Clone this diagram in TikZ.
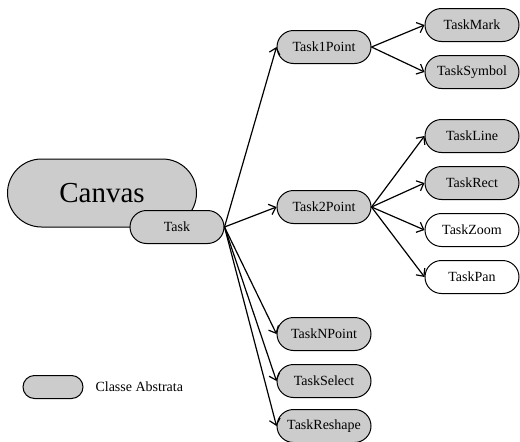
\documentclass[tikz,border=0pt]{standalone}
\usepackage{fontspec}
\setmainfont{Liberation Serif}
\usetikzlibrary{shapes.misc,arrows.meta}
\definecolor{absgray}{HTML}{CCCCCC}
\tikzset{
  cls/.style={rounded rectangle, draw=black, line width=1pt, minimum width=94pt, minimum height=33pt, inner sep=0pt, font=\fontsize{14}{16}\selectfont},
  abs/.style={cls, fill=absgray},
  conc/.style={cls, fill=white},
  link/.style={line width=1.2pt, -{Straight Barb[length=6pt,width=11pt,line width=1.2pt]}}
}
\begin{document}
\begin{tikzpicture}[x=1pt,y=-1pt]
\useasboundingbox (0,0) rectangle (520,442);
\node[abs, minimum width=189pt, minimum height=68pt, font=\fontsize{29}{32}\selectfont] (canvas) at (102,193) {Canvas};
\node[abs] (task) at (177,227) {Task};
\node[abs] (t1) at (324,47) {Task1Point};
\node[abs] (tmark) at (472,25) {TaskMark};
\node[abs] (tsym) at (472,72) {TaskSymbol};
\node[abs] (t2) at (324,207) {Task2Point};
\node[abs] (tline) at (472,136) {TaskLine};
\node[abs] (trect) at (472,183) {TaskRect};
\node[conc] (tzoom) at (472,230) {TaskZoom};
\node[conc] (tpan) at (472,277) {TaskPan};
\node[abs] (tn) at (324,334) {TaskNPoint};
\node[abs] (tsel) at (324,381) {TaskSelect};
\node[abs] (tresh) at (324,426) {TaskReshape};
\node[abs, minimum width=60pt, minimum height=23pt] (leg) at (53,387) {};
\node[anchor=west, font=\fontsize{14}{16}\selectfont] (legtxt) at (92,387) {Classe Abstrata};
\draw[link] (task.east) -- (t1.west);
\draw[link] (task.east) -- (t2.west);
\draw[link] (task.east) -- (tn.west);
\draw[link] (task.east) -- (tsel.west);
\draw[link] (task.east) -- (tresh.west);
\draw[link] (t1.east) -- (tmark.west);
\draw[link] (t1.east) -- (tsym.west);
\draw[link] (t2.east) -- (tline.west);
\draw[link] (t2.east) -- (trect.west);
\draw[link] (t2.east) -- (tzoom.west);
\draw[link] (t2.east) -- (tpan.west);
\end{tikzpicture}
\end{document}
